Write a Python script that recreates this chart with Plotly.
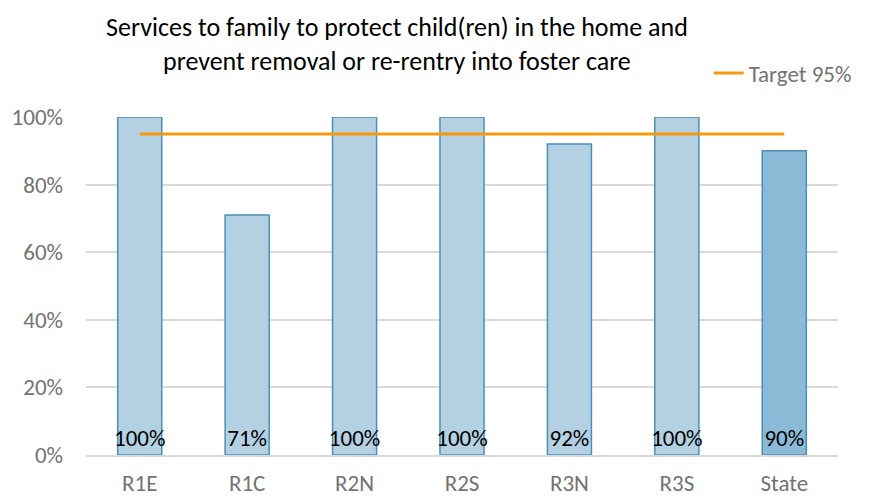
import plotly.graph_objects as go

categories = ["R1E", "R1C", "R2N", "R2S", "R3N", "R3S", "State"]
values = [1.00, 0.71, 1.00, 1.00, 0.92, 1.00, 0.90]
target = [0.95] * len(categories)
bar_colors = ["#b3d1e3"] * 6 + ["#8bbad6"]
title_lines = ["Services to family to protect child(ren) in the home and",
               "prevent removal or re-rentry into foster care"]

FONT = "Carlito, Lato, 'Open Sans', sans-serif"
# page body has an 8px margin, so the figure is drawn 8px smaller/offset
W, H = 862, 490
ML, MR, MT, MB = 78, 32, 109, 43
PW, PH = W - ML - MR, H - MT - MB

fig = go.Figure()
fig.add_trace(go.Bar(
    x=categories, y=values,
    marker=dict(color=bar_colors, line=dict(color="#4a8fbb", width=1.5)),
    width=0.41,
    texttemplate="%{y:.0%}",
    textposition="inside",
    insidetextanchor="start",
    constraintext="none",
    textangle=0,
    textfont=dict(color="#000000", size=23, family=FONT),
    showlegend=False,
    hoverinfo="skip",
))
fig.add_trace(go.Scatter(
    x=categories, y=target, mode="lines",
    line=dict(color="#f5990f", width=3),
    name="Target 95%",
))

fig.update_layout(
    width=W, height=H,
    margin=dict(l=ML, r=MR, t=MT, b=MB, autoexpand=False),
    paper_bgcolor="white", plot_bgcolor="white",
    font=dict(family=FONT, color="#737373", size=23),
    title=dict(
        text=title_lines[0],
        x=389 / W, xanchor="center", xref="container",
        y=1 - 19 / H, yanchor="middle", yref="container",
        font=dict(size=26, color="#000000", family=FONT),
    ),
    annotations=[dict(
        text=title_lines[1], showarrow=False,
        x=(389 - ML) / PW, xanchor="center", xref="paper",
        y=1 + (MT - 53) / PH, yanchor="middle", yref="paper",
        font=dict(size=26, color="#000000", family=FONT),
    )],
    showlegend=True,
    legend=dict(
        x=0.828, xanchor="left", xref="paper",
        y=1 - 65 / H, yanchor="middle", yref="container",
        orientation="h", bgcolor="rgba(0,0,0,0)",
        font=dict(size=23, color="#737373", family=FONT),
    ),
)
fig.update_yaxes(
    range=[0, 1], tickvals=[0, 0.2, 0.4, 0.6, 0.8, 1.0], tickformat=".0%",
    showgrid=True, gridcolor="#d9d9d9", gridwidth=2,
    zeroline=False, showline=False, ticks="", ticklabelstandoff=22,
    automargin=False,
)
fig.update_xaxes(
    showline=True, linecolor="#d9d9d9", linewidth=2, ticks="",
    ticklabelstandoff=6, automargin=False,
)

fig.write_html("out.html")
